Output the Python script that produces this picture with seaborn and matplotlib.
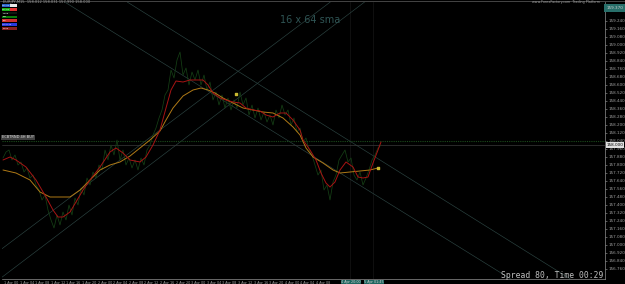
import matplotlib
matplotlib.use("Agg")
import matplotlib.pyplot as plt
import seaborn as sns

# price scale: 159.45 - pixel_row/100
close_bar = list(range(0, 379, 3))
close_px = [158, 152, 150, 160, 155, 165, 162, 172, 168, 178, 175, 185, 190, 200, 195, 210,
            220, 228, 215, 225, 212, 220, 205, 215, 198, 205, 188, 195, 178, 185, 172, 178,
            165, 170, 150, 160, 145, 155, 140, 160, 150, 165, 158, 168, 160, 170, 158, 165,
            150, 145, 135, 128, 118, 110, 95, 90, 70, 78, 60, 52, 75, 68, 85, 72,
            80, 70, 85, 75, 90, 82, 100, 92, 105, 95, 108, 98, 110, 100, 108, 92,
            105, 98, 115, 105, 118, 108, 120, 112, 122, 115, 125, 110, 118, 105, 115, 110,
            125, 118, 132, 128, 142, 138, 150, 155, 165, 175, 170, 190, 185, 200, 182, 175,
            160, 155, 150, 162, 158, 175, 180, 172, 185, 178, 170, 160, 155, 148, 145]
close = [round(159.45 - v / 100, 3) for v in close_px]

sma16_bar = [0, 7, 13, 23, 33, 43, 50, 55, 60, 67, 73, 80, 87, 97, 107, 113, 120, 127, 137,
             143, 150, 157, 163, 168, 173, 180, 187, 193, 200, 205, 210, 217, 223, 230, 237,
             243, 250, 257, 263, 270, 277, 283, 290, 297, 300, 307, 313, 318, 323, 327, 332,
             337, 343, 350, 355, 360, 365, 370, 375, 378]
sma16 = [157.85, 157.88, 157.85, 157.78, 157.65, 157.48, 157.35, 157.28, 157.28, 157.33,
         157.43, 157.55, 157.65, 157.78, 157.93, 157.97, 157.92, 157.85, 157.83, 157.88,
         158.00, 158.15, 158.37, 158.55, 158.64, 158.63, 158.65, 158.65, 158.65, 158.60,
         158.52, 158.47, 158.45, 158.43, 158.42, 158.37, 158.35, 158.34, 158.30, 158.28,
         158.32, 158.32, 158.25, 158.15, 158.05, 157.95, 157.85, 157.72, 157.62, 157.58,
         157.63, 157.75, 157.83, 157.78, 157.68, 157.67, 157.68, 157.82, 157.95, 158.03]

sma64_bar = [0, 13, 27, 37, 47, 57, 67, 77, 87, 97, 107, 117, 127, 137, 147, 157, 163, 170,
             180, 190, 198, 205, 212, 220, 230, 240, 250, 260, 270, 280, 290, 297, 303, 310,
             320, 330, 337, 347, 357, 367, 375]
sma64 = [157.75, 157.72, 157.65, 157.53, 157.48, 157.48, 157.48, 157.55, 157.65, 157.75,
         157.80, 157.83, 157.89, 157.97, 158.05, 158.14, 158.25, 158.37, 158.49, 158.55,
         158.57, 158.55, 158.52, 158.47, 158.42, 158.37, 158.35, 158.33, 158.32, 158.27,
         158.18, 158.10, 157.97, 157.88, 157.82, 157.75, 157.72, 157.73, 157.74, 157.75,
         157.77]

signal_bar = [233, 375]
signal_price = [158.51, 157.77]

# trend line objects: (bar1, price1, bar2, price2)
trend_lines = [
    (157, 158.15, 330, 159.45),
    (48, 157.05, 160, 157.90),
    (313, 158.25, 513, 157.00),
    (300, 157.95, 453, 157.00),
]

level_price = 158.04
bid_price = 158.00
top_level = 159.37

price_ticks = [round(156.76 + 0.08 * i, 2) for i in range(32)]
time_bars = [int(round(15.6 * i)) + 1 for i in range(21)]
time_labels = ["1 Apr 00", "1 Apr 04", "1 Apr 08", "1 Apr 12", "1 Apr 16",
               "1 Apr 20", "2 Apr 00", "2 Apr 04", "2 Apr 08", "2 Apr 12",
               "2 Apr 16", "2 Apr 20", "3 Apr 00", "3 Apr 04", "3 Apr 08",
               "3 Apr 12", "3 Apr 16", "3 Apr 20", "4 Apr 00", "4 Apr 04",
               "4 Apr 08"]
vline_bars = [347, 370]
vline_labels = ["4 Apr 20:00", "5 Apr 01:45"]

buttons = [("#2a62c8", "#e8e8e8"), ("#18b018", "#e03030"), ("#101810", "#101810"),
           ("#0a7a0a", "#0a7a0a"), ("#d03030", "#d03030"), ("#2a3ae0", "#2a3ae0"),
           ("#8a2020", "#8a2020")]
button_text = ["MA 16", "MA 64", "Trend", "Buy", "Sell", "Lot 0.10", "Close"]

sns.set_style("dark")
plt.rcParams["font.family"] = ["DejaVu Sans"]

fig = plt.figure(figsize=(6.25, 2.84), dpi=100, facecolor="black")
ax = fig.add_axes([2 / 625, 5 / 284, 603 / 625, 277 / 284])
ax.set_facecolor("black")

ax.set_xlim(-1, 602)
ax.set_ylim(159.45 - 2.79, 159.45 - 0.02)

for b in vline_bars:
    ax.axvline(b, color="#131313", lw=0.6, zorder=0)

for b1, p1, b2, p2 in trend_lines:
    ax.axline((b1, p1), (b2, p2), color="#2c4442", lw=0.45, zorder=1)

ax.axhline(level_price, color="#1a4a1a", lw=0.8, ls=(0, (1, 1)), zorder=1)
ax.axhline(bid_price, color="#3a3a3a", lw=0.5, zorder=1)

sns.lineplot(x=close_bar, y=close, ax=ax, color="#153f15", lw=0.55, zorder=2)
sns.lineplot(x=sma64_bar, y=sma64, ax=ax, color="#b07a16", lw=0.7, zorder=3)
sns.lineplot(x=sma16_bar, y=sma16, ax=ax, color="#a81414", lw=0.7, zorder=4)
ax.scatter(signal_bar, signal_price, marker="s", s=2.5, color="#c8b830", zorder=5)

for side in ["top", "left"]:
    ax.spines[side].set_visible(False)
ax.spines["right"].set_color("#909090")
ax.spines["bottom"].set_color("#909090")
ax.spines["right"].set_linewidth(0.5)
ax.spines["bottom"].set_linewidth(0.5)
ax.grid(False)

ax.yaxis.tick_right()
ax.set_yticks(price_ticks)
ax.set_yticklabels([f"{p:.3f}" for p in price_ticks])
ax.tick_params(axis="y", colors="#a0a0a0", labelsize=3.0, length=1.5, width=0.4, pad=1)
ax.set_xticks(time_bars)
ax.set_xticklabels(time_labels)
ax.tick_params(axis="x", colors="#a0a0a0", labelsize=2.4, length=1.2, width=0.4, pad=0.3)
for lbl in ax.get_xticklabels():
    lbl.set_horizontalalignment("left")
ax.set_xlabel("")
ax.set_ylabel("")

# highlighted axis labels
for b, t in zip(vline_bars, vline_labels):
    ax.text(b - 9, 156.645, t, fontsize=2.4, color="#d0d0d0", va="top", ha="left",
            bbox=dict(boxstyle="square,pad=0.15", fc="#1f6660", ec="none"), clip_on=False)
ax.text(1.002, bid_price, f"{bid_price:.3f}", fontsize=3.0, color="black", va="center",
        ha="left", bbox=dict(boxstyle="square,pad=0.15", fc="#e0e0e0", ec="none"),
        transform=ax.get_yaxis_transform(), clip_on=False)
ax.text(1.002, top_level, f"{top_level:.3f}", fontsize=3.0, color="#d0d0d0", va="center",
        ha="left", bbox=dict(boxstyle="square,pad=0.5", fc="#286f6a", ec="none"),
        transform=ax.get_yaxis_transform(), clip_on=False)

ax.text(0.0, level_price + 0.035, "ECBTRND 4H BUY", fontsize=2.6, color="#e0e0e0",
        va="center", ha="left", transform=ax.get_yaxis_transform(),
        bbox=dict(boxstyle="square,pad=0.2", fc="#404040", ec="none"))

fig.text(310 / 625, 1 - 20 / 284, "16 x 64 sma", fontsize=7, color="#2f5454",
         ha="center", va="center")
fig.text(603 / 625, 1 - 276 / 284, "Spread 80, Time 00:29", fontsize=5.8,
         family="DejaVu Sans Mono", color="#c0c0c0", ha="right", va="center")
fig.text(3 / 625, 1 - 2.5 / 284, "EURJPY,M15  158.012 158.031 157.990 158.000", fontsize=2.6,
         color="#a0a0a0", ha="left", va="center")
fig.text(600 / 625, 1 - 2.5 / 284, "www.ForexFactory.com  Trading Platform", fontsize=2.4,
         color="#a0a0a0", ha="right", va="center")
fig.add_artist(plt.Line2D([0, 1], [1 - 0.5 / 284, 1 - 0.5 / 284], color="#505050", lw=0.6))

for i, ((c1, c2), t) in enumerate(zip(buttons, button_text)):
    y = 1 - (5.5 + i * 3.8) / 284
    fig.patches.append(plt.Rectangle((2 / 625, y - 1.3 / 284), 8 / 625, 2.6 / 284,
                                     transform=fig.transFigure, fc=c1, ec="none"))
    fig.patches.append(plt.Rectangle((10 / 625, y - 1.3 / 284), 7 / 625, 2.6 / 284,
                                     transform=fig.transFigure, fc=c2, ec="none"))
    fig.text(2.5 / 625, y, t, fontsize=1.6, color="#ffffff", ha="left", va="center")

fig.savefig("out.png", dpi=100, facecolor="black")
